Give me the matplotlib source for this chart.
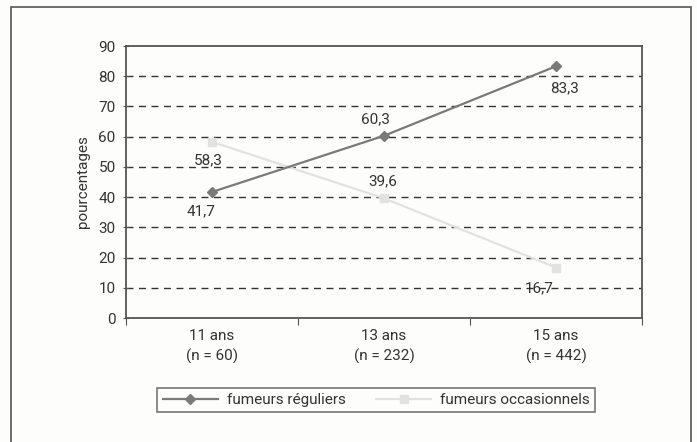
import matplotlib
matplotlib.use("Agg")
import matplotlib.pyplot as plt
from matplotlib.patches import Rectangle

plt.rcParams['font.family'] = ["Roboto", "DejaVu Sans"]

categories = ["11 ans\n(n = 60)", "13 ans\n(n = 232)", "15 ans\n(n = 442)"]
reguliers = [41.7, 60.3, 83.3]
occasionnels = [58.3, 39.6, 16.7]
reg_labels = ["41,7", "60,3", "83,3"]
occ_labels = ["58,3", "39,6", "16,7"]
yticks = [0, 10, 20, 30, 40, 50, 60, 70, 80, 90]

fig = plt.figure(figsize=(6.97, 4.42), dpi=100)
fig.patch.set_facecolor("#fdfdfb")
fig.patches.append(Rectangle((0.0158, -0.02), 0.975, 1.004, transform=fig.transFigure,
                             fill=False, edgecolor="#555555", linewidth=1.2))
ax = fig.add_axes([0.1808, 0.2805, 0.7403, 0.6154])
ax.set_facecolor("#fdfdfb")

x = [0.5, 1.5, 2.5]
ax.plot(x, reguliers, color="#7a7a7a", linewidth=1.6, marker="D", markersize=5,
        markerfacecolor="#7a7a7a", markeredgecolor="#7a7a7a", label="fumeurs réguliers", zorder=3)
ax.plot(x, occasionnels, color="#e2e2de", linewidth=1.6, marker="s", markersize=6,
        markerfacecolor="#e2e2de", markeredgecolor="#e2e2de", label="fumeurs occasionnels", zorder=2)

ax.set_xlim(0, 3)
ax.set_ylim(0, 90)
ax.set_yticks(yticks)
ax.set_xticks([0, 1, 2, 3])
ax.set_xticklabels([])
ax.set_xticks(x, minor=True)
ax.set_xticklabels(categories, minor=True, fontsize=11, color="#333333", linespacing=1.45)
ax.tick_params(axis="x", which="minor", length=0, pad=8)
ax.tick_params(axis="x", which="major", length=5, direction="out", color="#555555")
ax.tick_params(axis="y", length=5, direction="inout", color="#555555", labelsize=11, labelcolor="#333333", pad=5)

for v in yticks[1:-1]:
    ax.axhline(v, color="#333333", linewidth=1.0, linestyle=(0, (5, 4)), zorder=1)

for s in ax.spines.values():
    s.set_color("#555555")
    s.set_linewidth(1.3)

ax.set_ylabel("pourcentages", fontsize=11, color="#333333", labelpad=6)

offs_reg = [(-8, -14), (-6, 12), (6, -16)]
offs_occ = [(-3, -13), (-1, 12), (-12, -15)]
for xi, v, t, o in zip(x, reguliers, reg_labels, offs_reg):
    ax.annotate(t, (xi, v), xytext=o, textcoords="offset points", ha="center", va="center",
                fontsize=11, color="#333333")
for xi, v, t, o in zip(x, occasionnels, occ_labels, offs_occ):
    ax.annotate(t, (xi, v), xytext=o, textcoords="offset points", ha="center", va="center",
                fontsize=11, color="#333333")

leg = fig.legend(loc="center", bbox_to_anchor=(0.54, 0.095), ncol=2, fontsize=11,
                 frameon=True, fancybox=False, edgecolor="#555555", handlelength=3.6,
                 columnspacing=2.0, borderpad=0.35, handletextpad=0.6)
leg.get_frame().set_linewidth(1.2)
leg.get_frame().set_facecolor("#fdfdfb")
for t in leg.get_texts():
    t.set_color("#333333")

fig.savefig("out.png", dpi=100, facecolor=fig.get_facecolor())
